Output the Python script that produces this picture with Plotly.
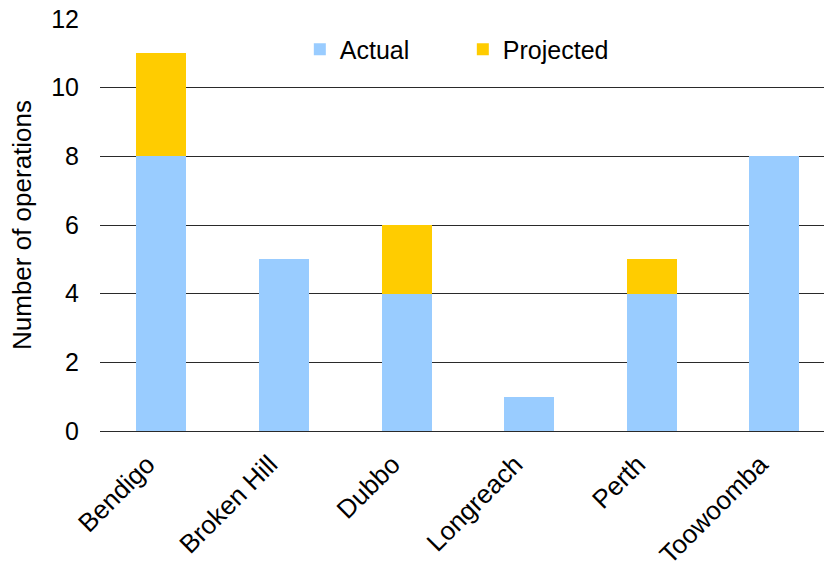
import plotly.graph_objects as go

categories = ["Bendigo", "Broken Hill", "Dubbo", "Longreach", "Perth", "Toowoomba"]
actual = [8, 5, 4, 1, 4, 8]
projected = [3, 0, 2, 0, 1, 0]

FONT = "Liberation Sans, Arial, sans-serif"
FS = 25

fig = go.Figure()
fig.add_trace(go.Bar(x=categories, y=actual, name="Actual",
                     marker=dict(color="#99ccff", line=dict(width=0))))
fig.add_trace(go.Bar(x=categories, y=projected, name="Projected",
                     marker=dict(color="#ffcc00", line=dict(width=0))))

fig.update_layout(
    barmode="stack",
    bargap=0.592,
    width=824, height=574,
    margin=dict(l=100, r=0, t=19, b=143),
    paper_bgcolor="white", plot_bgcolor="white",
    font=dict(family=FONT, size=FS, color="black"),
    showlegend=True,
    legend=dict(orientation="h", x=0.276, y=0.982, xanchor="left", yanchor="top",
                font=dict(size=FS), entrywidth=118, bgcolor="rgba(0,0,0,0)",
                traceorder="normal"),
)
fig.update_xaxes(range=[-0.5, 5.405], tickangle=-45, showgrid=False,
                 showline=False, ticks="", tickfont=dict(size=26),
                 ticklabelstandoff=12, ticklabelshift=-14, automargin=False)
fig.update_yaxes(range=[0, 12], dtick=2, showgrid=True, gridcolor="#2a2a2a",
                 gridwidth=1, zeroline=True, zerolinecolor="#2a2a2a", zerolinewidth=1,
                 showline=False, ticks="", tickfont=dict(size=FS),
                 ticklabelstandoff=20, automargin=False,
                 title=dict(text="Number of operations", font=dict(size=26), standoff=12))

fig.write_html("out.html")
